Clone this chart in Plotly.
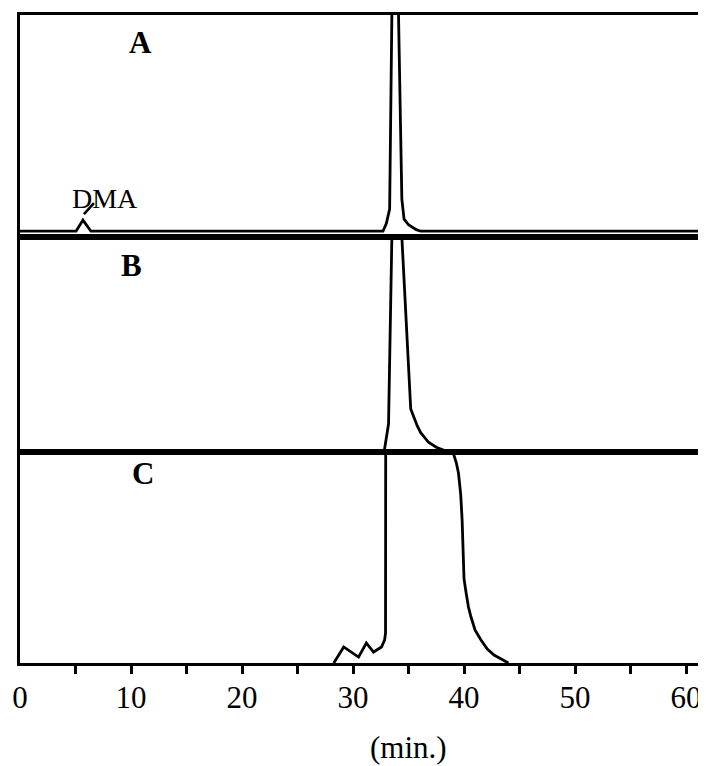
import plotly.graph_objects as go

# ---- data (retention time in min, detector signal in % of panel height) ----
time_A = [0.0, 5.05, 5.67, 6.39, 32.7, 33.0, 33.3, 33.5, 33.8, 34.1, 34.4, 34.6, 35.0, 35.3, 35.7, 36.1, 61.08]
signal_A = [2.6, 2.6, 7.6, 2.6, 2.6, 6.0, 12.6, 100, 125, 100, 17.0, 8.0, 5.5, 4.5, 3.3, 2.6, 2.6]

time_B = [0.0, 32.8, 33.2, 33.5, 33.9, 34.4, 35.2, 35.5, 35.8, 36.1, 36.4, 36.8, 37.5, 38.2, 39.0, 61.08]
signal_B = [0.0, 0.0, 13.0, 100, 125, 100, 20.0, 15.5, 12.0, 9.0, 7.0, 4.5, 2.2, 0.8, 0.0, 0.0]

time_C = [28.27, 29.16, 30.5, 31.2, 31.85, 32.57, 32.85, 32.93, 32.95, 38.9, 39.0, 39.3, 39.5, 39.7, 39.83,
          39.92, 40.0, 40.19, 40.4, 40.63, 41.0, 41.53, 42.1, 42.7, 43.3, 43.77, 44.0]
signal_C = [0.0, 7.6, 2.8, 9.5, 5.2, 7.6, 11.0, 14.2, 130, 130, 100, 95.0, 90.0, 80.0, 67.8,
            48.8, 40.0, 33.2, 26.5, 21.8, 15.5, 10.9, 6.6, 3.8, 2.0, 0.9, 0.0]

label_ticks = [0, 10, 20, 30, 40, 50, 60]
label_texts = ["0", "10", "20", "30", "40", "50", "60"]
mark_ticks = [5, 10, 15, 20, 25, 30, 35, 40, 45, 50, 55, 60]

panel_labels = ["A", "B", "C"]
label_x = [10.83, 10.07, 11.05]
label_y = [87.4, 86.6, 89.6]

dma_text = "DMA"
dma_x, dma_y = 7.65, 17.5
dma_leader_x = [5.76, 6.66]
dma_leader_y = [10.3, 15.2]

x_max = 61.08
serif = "Liberation Serif"
line_w = 2.8
frame_w = 2.5

fig = go.Figure()
fig.add_trace(go.Scatter(x=time_A, y=signal_A, mode="lines", xaxis="x3", yaxis="y3",
                         line=dict(color="black", width=line_w), showlegend=False, hoverinfo="skip"))
fig.add_trace(go.Scatter(x=dma_leader_x, y=dma_leader_y, mode="lines", xaxis="x3", yaxis="y3",
                         line=dict(color="black", width=2.6), showlegend=False, hoverinfo="skip"))
fig.add_trace(go.Scatter(x=time_B, y=signal_B, mode="lines", xaxis="x2", yaxis="y2",
                         line=dict(color="black", width=line_w), showlegend=False, hoverinfo="skip"))
fig.add_trace(go.Scatter(x=time_C, y=signal_C, mode="lines", xaxis="x", yaxis="y",
                         line=dict(color="black", width=line_w), showlegend=False, hoverinfo="skip"))
# carrier for the tick-mark axis
fig.add_trace(go.Scatter(x=mark_ticks, y=[None] * len(mark_ticks), mode="lines", xaxis="x4", yaxis="y",
                         showlegend=False, hoverinfo="skip"))

d1 = 212 / 651
d2 = (212 + 216) / 651

frame = dict(showline=True, linecolor="black", linewidth=frame_w, mirror=True,
             showgrid=False, zeroline=False)

fig.update_layout(
    width=698, height=758,
    margin=dict(l=8, r=8, t=4, b=103),
    paper_bgcolor="white", plot_bgcolor="white",
    font=dict(family=serif, color="black"),
    xaxis=dict(domain=[0, 1], anchor="y", range=[0, x_max], ticks="",
               tickvals=label_ticks, ticktext=label_texts, ticklabeloverflow="allow",
               tickfont=dict(family=serif, size=31, color="black"), ticklabelstandoff=5, **frame),
    xaxis4=dict(overlaying="x", anchor="y", side="bottom", range=[0, x_max], showline=False,
                showgrid=False, zeroline=False, ticks="outside", ticklen=10, tickwidth=2.5,
                tickcolor="black", tickvals=mark_ticks, showticklabels=False),
    yaxis=dict(domain=[0, d1], anchor="x", range=[0, 100], showticklabels=False, ticks="", **frame),
    xaxis2=dict(domain=[0, 1], anchor="y2", range=[0, x_max], showticklabels=False, ticks="", **frame),
    yaxis2=dict(domain=[d1, d2], anchor="x2", range=[0, 100], showticklabels=False, ticks="", **frame),
    xaxis3=dict(domain=[0, 1], anchor="y3", range=[0, x_max], showticklabels=False, ticks="", **frame),
    yaxis3=dict(domain=[d2, 1], anchor="x3", range=[0, 100], showticklabels=False, ticks="", **frame),
)

refs = [("x3", "y3"), ("x2", "y2"), ("x", "y")]
for lab, lx, ly, (xr, yr) in zip(panel_labels, label_x, label_y, refs):
    fig.add_annotation(x=lx, y=ly, xref=xr, yref=yr, text="<b>%s</b>" % lab, showarrow=False,
                       font=dict(family=serif, size=31, color="black"),
                       xanchor="center", yanchor="middle")

fig.add_annotation(x=(406.5 - 16) / 682, y=(663 - 748) / 651, xref="paper", yref="paper",
                   text="(min.)", showarrow=False,
                   font=dict(family=serif, size=31, color="black"), xanchor="center", yanchor="middle")

fig.add_annotation(x=dma_x, y=dma_y, xref="x3", yref="y3", text=dma_text, showarrow=False,
                   font=dict(family=serif, size=28, color="black"), xanchor="center", yanchor="middle")

fig.write_html("out.html")
